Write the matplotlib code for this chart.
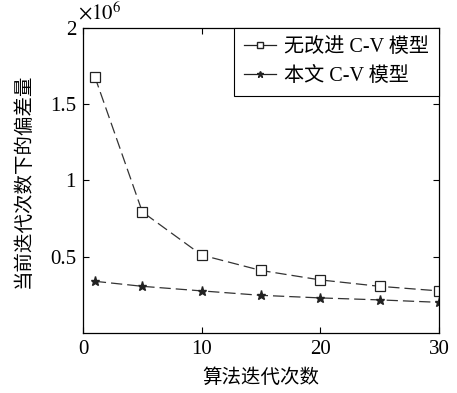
import matplotlib.pyplot as plt
from matplotlib.lines import Line2D

plt.rcParams['font.family'] = ['Liberation Serif', 'Noto Sans CJK SC', 'DejaVu Sans']
plt.rcParams['mathtext.fontset'] = 'stix'

# iterations and deviation values (x 10^6)
iters = [1, 5, 10, 15, 20, 25, 30]
cv_plain = [1.68, 0.794, 0.511, 0.41, 0.348, 0.306, 0.276]
cv_ours = [0.339, 0.306, 0.276, 0.247, 0.23, 0.217, 0.201]
labels = ['无改进 C-V 模型', '本文 C-V 模型']
xticks = [0, 10, 20, 30]
yticks = [0.5, 1, 1.5, 2]

fig = plt.figure(figsize=(4.57, 3.93), dpi=100)
ax = fig.add_axes([0.1816, 0.1527, 0.7790, 0.7761])

ax.plot(iters, cv_plain, color='#333333', linestyle=(0, (9, 4)), linewidth=0.9,
        marker='s', markersize=6.5, markerfacecolor='white', markeredgecolor='#222222', markeredgewidth=0.9)
ax.plot(iters, cv_ours, color='#333333', linestyle=(0, (9, 4)), linewidth=0.9,
        marker='*', markersize=6.5, markerfacecolor='#222222', markeredgecolor='#222222')

ax.set_xlim(0, 30)
ax.set_ylim(0, 2)
ax.set_xticks(xticks)
ax.set_xticklabels([str(t) for t in xticks])
ax.set_yticks(yticks)
ax.set_yticklabels(['0.5', '1', '1.5', '2'])
ax.tick_params(direction='in', top=True, right=True, labelsize=15, length=4, width=0.8, pad=5)
for s in ax.spines.values():
    s.set_linewidth(0.9)

ax.text(-0.015, 1.012, r'$\times\mathrm{10}^{6}$', transform=ax.transAxes, fontsize=15, ha='left', va='bottom')

ax.set_xlabel('算法迭代次数', fontsize=14, family=['Noto Sans CJK SC'], labelpad=6)
ax.set_ylabel('当前迭代次数下的偏差量', fontsize=14, family=['Noto Sans CJK SC'], labelpad=12)

handles = [
    Line2D([], [], color='#222222', linewidth=0.9, marker='s', markersize=5,
           markerfacecolor='white', markeredgecolor='#222222'),
    Line2D([], [], color='#222222', linewidth=0.9, marker='*', markersize=5,
           markerfacecolor='#222222', markeredgecolor='#222222'),
]
leg = ax.legend(handles, labels, loc='upper right', fancybox=False,
                edgecolor='black', framealpha=1, borderaxespad=0, handlelength=1.6,
                handletextpad=0.4, borderpad=0.5, labelspacing=0.5,
                prop={'family': ['Liberation Serif', 'Noto Sans CJK SC'], 'size': 14.5})
leg.get_frame().set_linewidth(0.8)

fig.savefig('out.png', dpi=100)
